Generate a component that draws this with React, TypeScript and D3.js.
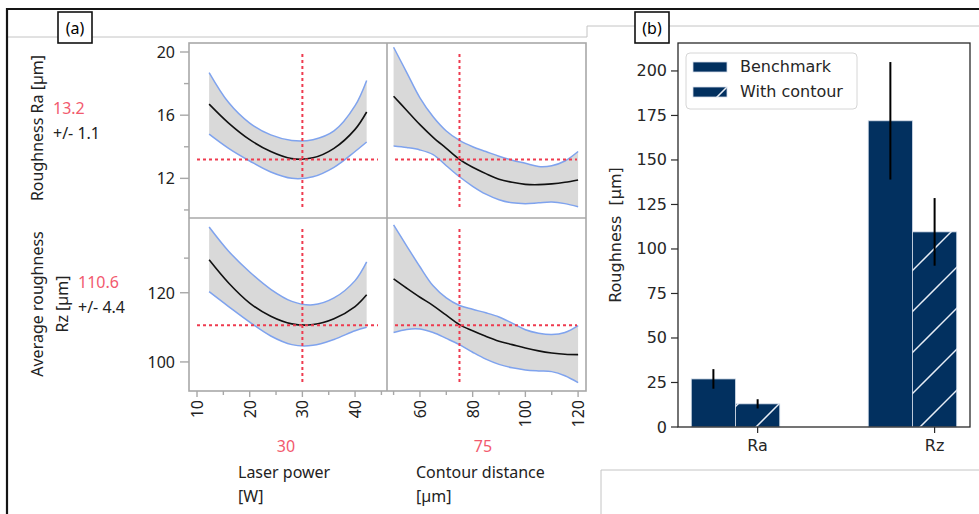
import React from 'react';
import * as d3 from 'd3';

// ---- panel (a): prediction profiler data ----
const powerX = [12.3, 16, 20, 24, 28, 32, 36, 40, 42.2];
const raPowerMean = [16.7, 15.5, 14.45, 13.7, 13.25, 13.3, 13.9, 15.1, 16.2];
const raPowerHi = [18.7, 16.8, 15.5, 14.75, 14.4, 14.45, 15.0, 16.6, 18.2];
const raPowerLo = [14.8, 13.9, 13.1, 12.4, 12.0, 12.1, 12.7, 13.7, 14.3];

const rzPowerMean = [129.5, 122.8, 117.0, 113.2, 111.0, 110.8, 112.5, 116.0, 119.4];
const rzPowerHi = [139.0, 132.0, 126.0, 121.0, 117.5, 116.5, 118.5, 123.5, 128.9];
const rzPowerLo = [120.3, 116.0, 111.5, 107.5, 105.0, 104.8, 106.5, 109.0, 110.0];

const distX = [50, 55, 60, 65, 70, 75, 80, 85, 90, 95, 100, 105, 110, 115, 120];
const raDistMean = [17.2, 16.3, 15.4, 14.6, 13.9, 13.2, 12.7, 12.3, 11.95, 11.75, 11.62, 11.6, 11.65, 11.75, 11.9];
const raDistHi = [20.3, 18.7, 17.1, 15.9, 15.0, 14.4, 14.0, 13.7, 13.4, 13.15, 12.95, 12.75, 12.8, 13.1, 13.7];
const raDistLo = [14.05, 13.95, 13.8, 13.5, 12.8, 12.1, 11.5, 11.0, 10.65, 10.45, 10.4, 10.45, 10.5, 10.4, 10.2];

const rzDistMean = [124.0, 121.3, 118.7, 116.3, 113.5, 110.8, 109.0, 107.4, 106.0, 105.0, 104.0, 103.2, 102.6, 102.2, 102.1];
const rzDistHi = [139.6, 133.5, 127.5, 122.0, 118.5, 116.3, 115.2, 114.2, 113.0, 111.2, 109.3, 108.3, 107.9, 108.5, 110.5];
const rzDistLo = [108.5, 109.4, 109.5, 108.5, 106.8, 105.0, 102.8, 100.8, 99.3, 98.3, 97.7, 97.4, 97.2, 96.0, 94.0];

const setPower = 30;
const setDist = 75;
const predRa = 13.2;
const predRz = 110.6;

const raTicks = [12, 16, 20];
const raMinor = [10, 14, 18];
const rzTicks = [100, 120];
const rzMinor = [130];
const powerTicks = [10, 20, 30, 40];
const powerMinor = [15, 25, 35, 45];
const distTicks = [60, 80, 100, 120];
const distMinor = [50, 70, 90, 110];

// ---- panel (b): bar chart data ----
const categories = ['Ra', 'Rz'];
const benchmark = [27, 172];
const benchmarkErr = [5.5, 33];
const withContour = [13, 109.6];
const withContourErr = [2.6, 19];
const barTicks = [0, 25, 50, 75, 100, 125, 150, 175, 200];

const RED = '#ee3b4f';
const RED_TEXT = '#f25a6e';
const BLUE = '#7fa3ee';
const GRID = '#a8a8a8';
const NAVY = '#02305f';
const LEFT_FONT = '"Noto Sans", "Open Sans", sans-serif';
const MPL_FONT = '"DejaVu Sans", sans-serif';

type Scale = d3.ScaleLinear<number, number>;

function Curve({ xs, mean, lo, hi, x, y }: { xs: number[]; mean: number[]; lo: number[]; hi: number[]; x: Scale; y: Scale }) {
  const idx = xs.map((_, i) => i);
  // smooth the profiler traces
  const curve = d3.curveCatmullRom.alpha(0.5);
  const area = d3.area<number>()
    .x(i => x(xs[i]))
    .y0(i => y(lo[i]))
    .y1(i => y(hi[i]))
    .curve(curve);
  const line = (vals: number[]) => d3.line<number>()
    .x(i => x(xs[i]))
    .y(i => y(vals[i]))
    .curve(curve)(idx) as string;
  return (
    <g>
      <path d={area(idx) as string} fill="#d9d9d9" />
      <path d={line(hi)} fill="none" stroke={BLUE} strokeWidth={1.5} />
      <path d={line(lo)} fill="none" stroke={BLUE} strokeWidth={1.5} />
      <path d={line(mean)} fill="none" stroke="#111" strokeWidth={1.6} />
    </g>
  );
}

function RefLines({ x, y, vx, vy }: { x: Scale; y: Scale; vx: number; vy: number }) {
  const [x0, x1] = x.range();
  const [y0, y1] = y.range(); // y0 bottom, y1 top
  return (
    <g stroke={RED} strokeWidth={2} strokeDasharray="3,3">
      <line x1={x(vx)} x2={x(vx)} y1={y1 + 11} y2={y0 - 8} />
      <line x1={x0 + 8} x2={x1 - 9} y1={y(vy)} y2={y(vy)} />
    </g>
  );
}

export default function App() {
  const width = 979;
  const height = 514;

  // panel (a) scales
  const xPow = d3.scaleLinear().domain([8.48, 46.06]).range([189, 387]);
  const xDist = d3.scaleLinear().domain([47.5, 123]).range([387, 586]);
  const yRa = d3.scaleLinear().domain([9.49, 20.57]).range([218, 43]);
  const yRz = d3.scaleLinear().domain([91.6, 141.6]).range([391, 218]);

  // panel (b) scales
  const xB = d3.scaleLinear().domain([-0.45, 1.2]).range([678, 970]);
  const yB = d3.scaleLinear().domain([0, 215.7]).range([427, 43]);
  const bw = 0.25;

  const axisBottom = 391;

  return (
    <svg width={width} height={height} style={{ position: 'absolute', left: 0, top: 0, background: '#fff' }}>
      <defs>
        <pattern id="hatch" patternUnits="userSpaceOnUse" width={41} height={41}>
          <rect width={41} height={41} fill={NAVY} />
          <line x1={-2} y1={37} x2={37} y2={-2} stroke="#e8eef6" strokeWidth={1.5} />
          <line x1={33} y1={43} x2={43} y2={33} stroke="#e8eef6" strokeWidth={1.5} />
        </pattern>
      </defs>

      {/* frame and panel dividers */}
      <line x1={587} y1={37} x2={8} y2={37} stroke="#c4c4c4" strokeWidth={1} />
      <polyline points="587,37 587,26 979,26" fill="none" stroke="#c4c4c4" strokeWidth={1} />
      <polyline points="601,514 601,470 979,470" fill="none" stroke="#c4c4c4" strokeWidth={1} />
      <line x1={7} y1={9} x2={979} y2={9} stroke="#151515" strokeWidth={2} />
      <line x1={7} y1={8} x2={7} y2={514} stroke="#151515" strokeWidth={2.2} />

      <rect x={58} y={12} width={34} height={31} fill="#fff" stroke="#111" strokeWidth={1.6} />
      <text x={75} y={28} textAnchor="middle" dominantBaseline="central" fontFamily={LEFT_FONT} fontSize={16}>(a)</text>
      <rect x={635} y={12} width={34} height={31} fill="#fff" stroke="#111" strokeWidth={1.6} />
      <text x={652} y={28} textAnchor="middle" dominantBaseline="central" fontFamily={LEFT_FONT} fontSize={16}>(b)</text>

      {/* panel (a) curves */}
      <Curve xs={powerX} mean={raPowerMean} lo={raPowerLo} hi={raPowerHi} x={xPow} y={yRa} />
      <Curve xs={distX} mean={raDistMean} lo={raDistLo} hi={raDistHi} x={xDist} y={yRa} />
      <Curve xs={powerX} mean={rzPowerMean} lo={rzPowerLo} hi={rzPowerHi} x={xPow} y={yRz} />
      <Curve xs={distX} mean={rzDistMean} lo={rzDistLo} hi={rzDistHi} x={xDist} y={yRz} />

      <RefLines x={xPow} y={yRa} vx={setPower} vy={predRa} />
      <RefLines x={xDist} y={yRa} vx={setDist} vy={predRa} />
      <RefLines x={xPow} y={yRz} vx={setPower} vy={predRz} />
      <RefLines x={xDist} y={yRz} vx={setDist} vy={predRz} />

      {/* panel (a) borders */}
      <g fill="none" stroke={GRID} strokeWidth={1.6}>
        <rect x={189} y={43} width={397} height={348} />
        <line x1={387} x2={387} y1={43} y2={391} />
        <line x1={189} x2={586} y1={218} y2={218} />
      </g>

      {/* ticks */}
      <g stroke={GRID} strokeWidth={1.4}>
        {raTicks.map(t => <line key={'ra' + t} x1={180} x2={189} y1={yRa(t)} y2={yRa(t)} />)}
        {raMinor.map(t => <line key={'ram' + t} x1={184} x2={189} y1={yRa(t)} y2={yRa(t)} />)}
        {rzTicks.map(t => <line key={'rz' + t} x1={180} x2={189} y1={yRz(t)} y2={yRz(t)} />)}
        {rzMinor.map(t => <line key={'rzm' + t} x1={184} x2={189} y1={yRz(t)} y2={yRz(t)} />)}
        {powerTicks.map(t => <line key={'p' + t} x1={xPow(t)} x2={xPow(t)} y1={axisBottom} y2={axisBottom + 6} />)}
        {powerMinor.map(t => <line key={'pm' + t} x1={xPow(t)} x2={xPow(t)} y1={axisBottom} y2={axisBottom + 4} />)}
        {distTicks.map(t => <line key={'d' + t} x1={xDist(t)} x2={xDist(t)} y1={axisBottom} y2={axisBottom + 6} />)}
        {distMinor.map(t => <line key={'dm' + t} x1={xDist(t)} x2={xDist(t)} y1={axisBottom} y2={axisBottom + 4} />)}
      </g>
      <g fontFamily={LEFT_FONT} fontSize={16} fill="#222">
        {raTicks.map(t => <text key={'ral' + t} x={175} y={yRa(t)} textAnchor="end" dominantBaseline="central">{t}</text>)}
        {rzTicks.map(t => <text key={'rzl' + t} x={175} y={yRz(t)} textAnchor="end" dominantBaseline="central">{t}</text>)}
        {powerTicks.map(t => (
          <text key={'pl' + t} transform={`translate(${xPow(t)},400) rotate(-90)`} textAnchor="end" dominantBaseline="central">{t}</text>
        ))}
        {distTicks.map(t => (
          <text key={'dl' + t} transform={`translate(${xDist(t)},400) rotate(-90)`} textAnchor="end" dominantBaseline="central">{t}</text>
        ))}

        <text transform="translate(37,128) rotate(-90)" textAnchor="middle" dominantBaseline="central">Roughness Ra [µm]</text>
        <text x={53} y={108} dominantBaseline="central" fill={RED_TEXT}>{predRa.toFixed(1)}</text>
        <text x={53} y={133} dominantBaseline="central">+/- 1.1</text>
        <text transform="translate(37,304) rotate(-90)" textAnchor="middle" dominantBaseline="central">Average roughness</text>
        <text transform="translate(62,304) rotate(-90)" textAnchor="middle" dominantBaseline="central">Rz [µm]</text>
        <text x={78} y={282} dominantBaseline="central" fill={RED_TEXT}>{predRz.toFixed(1)}</text>
        <text x={78} y={307} dominantBaseline="central">+/- 4.4</text>

        <text x={286} y={446} textAnchor="middle" dominantBaseline="central" fill={RED_TEXT}>{setPower}</text>
        <text x={238} y={472} dominantBaseline="central">Laser power</text>
        <text x={238} y={496} dominantBaseline="central">[W]</text>
        <text x={483} y={446} textAnchor="middle" dominantBaseline="central" fill={RED_TEXT}>{setDist}</text>
        <text x={416} y={472} dominantBaseline="central">Contour distance</text>
        <text x={416} y={496} dominantBaseline="central">[µm]</text>
      </g>

      {/* panel (b) bars */}
      {categories.map((c, i) => (
        <g key={c}>
          <rect x={xB(i - bw * 1.5)} y={yB(benchmark[i])} width={xB(bw) - xB(0)} height={yB(0) - yB(benchmark[i])}
            fill={NAVY} stroke="#d4dde9" strokeWidth={0.8} />
          <rect x={xB(i - bw / 2)} y={yB(withContour[i])} width={xB(bw) - xB(0)} height={yB(0) - yB(withContour[i])}
            fill="url(#hatch)" stroke="#d4dde9" strokeWidth={0.8} />
          <line x1={xB(i - bw)} x2={xB(i - bw)} y1={yB(benchmark[i] - benchmarkErr[i])} y2={yB(benchmark[i] + benchmarkErr[i])}
            stroke="#000" strokeWidth={2} />
          <line x1={xB(i)} x2={xB(i)} y1={yB(withContour[i] - withContourErr[i])} y2={yB(withContour[i] + withContourErr[i])}
            stroke="#000" strokeWidth={2} />
        </g>
      ))}

      {/* panel (b) axes */}
      <rect x={678} y={43} width={292} height={384} fill="none" stroke="#2a2a2a" strokeWidth={1.3} />
      <g stroke="#2a2a2a" strokeWidth={1.2}>
        {barTicks.map(t => <line key={'bt' + t} x1={671} x2={678} y1={yB(t)} y2={yB(t)} />)}
        {categories.map((c, i) => <line key={'bx' + c} x1={xB(i)} x2={xB(i)} y1={427} y2={433} />)}
      </g>
      <g fontFamily={MPL_FONT} fontSize={16} fill="#262626">
        {barTicks.map(t => <text key={'btl' + t} x={667} y={yB(t)} textAnchor="end" dominantBaseline="central">{t}</text>)}
        {categories.map((c, i) => <text key={'bxl' + c} x={xB(i)} y={445} textAnchor="middle" dominantBaseline="central">{c}</text>)}
        <text transform="translate(615,235) rotate(-90)" textAnchor="middle" dominantBaseline="central" style={{ whiteSpace: 'pre' }}>Roughness  [µm]</text>
      </g>

      {/* legend */}
      <rect x={686} y={53} width={171} height={56} rx={4} fill="#fff" fillOpacity={0.85} stroke="#d6d6d6" />
      <rect x={693} y={62} width={34} height={10} fill={NAVY} stroke="#d4dde9" strokeWidth={0.8} />
      <rect x={693} y={87} width={34} height={10} fill="url(#hatch)" stroke="#d4dde9" strokeWidth={0.8} />
      <g fontFamily={MPL_FONT} fontSize={16} fill="#262626">
        <text x={740} y={66} dominantBaseline="central">Benchmark</text>
        <text x={740} y={91} dominantBaseline="central">With contour</text>
      </g>
    </svg>
  );
}
